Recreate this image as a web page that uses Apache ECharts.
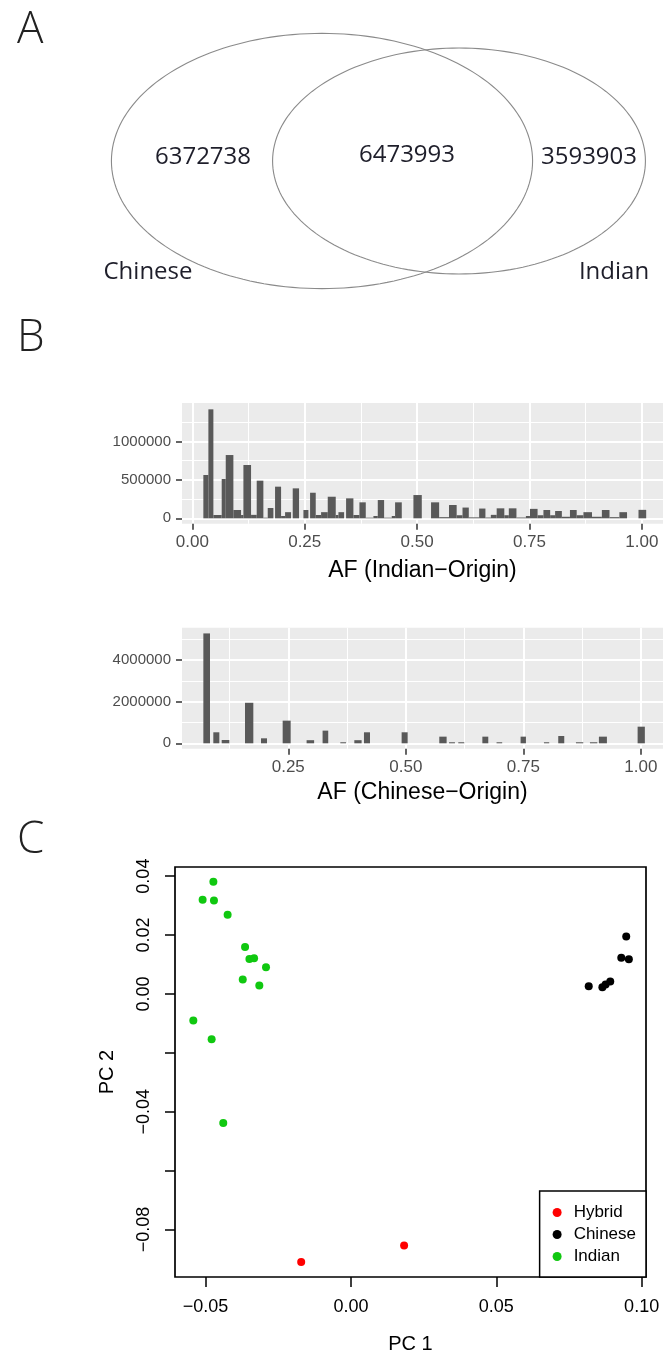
<!DOCTYPE html>
<html><head><meta charset="utf-8">
<script src="https://cdn.jsdelivr.net/npm/echarts@6/dist/echarts.min.js"></script>
<style>html,body{margin:0;padding:0;background:#fff}#c{width:663px;height:1357px}</style>
</head><body><div id="c"></div>
<script>
// ---------- Panel A : Venn ----------
const vennSets = ['Chinese', 'Indian'];
const vennRegionCounts = [6372738, 6473993, 3593903]; // Chinese only, shared, Indian only

// ---------- Panel B : allele-frequency histograms ----------
const indianBinStart = [0.0245,0.0357,0.0468,0.0653,0.0743,0.0913,0.1084,0.1136,0.1306,0.1432,0.1580,0.1677,0.1840,0.1974,0.2063,0.2233,0.2471,0.2619,0.2745,0.2864,0.3012,0.3190,0.3250,0.3420,0.3583,0.3717,0.3858,0.4028,0.4125,0.4266,0.4436,0.4510,0.4918,
  0.531,0.549,0.571,0.588,0.601,0.615,0.638,0.652,0.664,0.677,0.694,0.704,0.721,0.742,0.751,0.768,0.781,0.796,0.807,0.822,0.840,0.855,0.870,0.889,0.911,0.928,0.950,0.9925];
const indianBinEnd = [0.0357,0.0468,0.0653,0.0743,0.0913,0.1084,0.1136,0.1306,0.1432,0.1580,0.1677,0.1803,0.1974,0.2063,0.2196,0.2374,0.2582,0.2745,0.2864,0.3012,0.3190,0.3250,0.3376,0.3583,0.3717,0.3858,0.4028,0.4125,0.4266,0.4436,0.4510,0.4659,0.5104,
  0.549,0.571,0.588,0.601,0.615,0.638,0.652,0.664,0.677,0.694,0.704,0.721,0.742,0.751,0.768,0.781,0.796,0.807,0.822,0.840,0.855,0.870,0.889,0.911,0.928,0.950,0.967,1.0096];
const indianCount = [564000,1419000,43000,512000,824000,108000,43000,694000,45000,490000,8000,134000,412000,30000,80000,390000,108000,333000,43000,80000,281000,43000,80000,260000,43000,208000,8000,30000,238000,8000,30000,208000,303000,
  208000,15000,173000,40000,140000,12000,127000,10000,45000,130000,40000,130000,10000,30000,123000,40000,108000,40000,95000,20000,108000,40000,80000,20000,108000,15000,80000,110000];

const chineseBinStart = [0.0694,0.0906,0.1084,0.1580,0.1920,0.2381,0.2890,0.3230,0.3607,0.3905,0.4110,0.4911,0.5712,0.5920,0.6116,0.6628,0.6930,0.7441,0.7938,0.8242,0.8618,0.8916,0.9107,0.9930];
const chineseBinEnd   = [0.0836,0.1034,0.1247,0.1757,0.2048,0.2551,0.3050,0.3350,0.3728,0.4060,0.4238,0.5039,0.5868,0.6045,0.6243,0.6754,0.7050,0.7555,0.8050,0.8370,0.8774,0.9073,0.9277,1.0084];
const chineseCount    = [5290000,530000,160000,1950000,240000,1090000,150000,610000,50000,150000,530000,530000,320000,50000,50000,320000,50000,320000,50000,350000,50000,50000,320000,800000];

const afTicks = [0, 0.25, 0.5, 0.75, 1];
const afMinor = [0.125, 0.375, 0.625, 0.875];
const indianYTicks = [0, 500000, 1000000];
const indianYMinor = [250000, 750000, 1250000];
const chineseYTicks = [0, 2000000, 4000000];
const chineseYMinor = [1000000, 3000000, 5000000];

// ---------- Panel C : PCA ----------
const pcaGroups = ['Hybrid', 'Chinese', 'Indian'];
const hybridPC1 = [-0.0171, 0.0183];
const hybridPC2 = [-0.0910, -0.0854];
const chinesePC1 = [0.0947, 0.0930, 0.0956, 0.0818, 0.0865, 0.0876, 0.0892];
const chinesePC2 = [0.0195, 0.0123, 0.0118, 0.0026, 0.0023, 0.0032, 0.0042];
const indianPC1 = [-0.0473,-0.0510,-0.0471,-0.0424,-0.0364,-0.0349,-0.0333,-0.0292,-0.0372,-0.0315,-0.0542,-0.0479,-0.0439];
const indianPC2 = [0.0381,0.0320,0.0317,0.0269,0.0159,0.0119,0.0121,0.0091,0.0049,0.0029,-0.0090,-0.0154,-0.0438];
const pc1Ticks = [-0.05, 0, 0.05, 0.10];
const pc2Ticks = [0.04, 0.02, 0, -0.02, -0.04, -0.06, -0.08];
const pc2Labelled = [0.04, 0.02, 0, -0.04, -0.08];

// ---------- layout / style ----------
const SANS = 'Liberation Sans';
const VENN_FONT = 'Open Sans';
const vennLayout = {
  centers: [[322, 161], [459, 161]], aspect: 1.65, areaPerCount: 0.002092,
  regionLabelPos: [[203, 157], [407, 155], [589, 157]],
  setLabelPos: [[148, 272], [614, 272]]
};
const minusFmt = (v, d) => v.toFixed(d).replace('-', '\u2212');

const chart = echarts.init(document.getElementById('c'), null, {renderer: 'canvas'});

const setTotals = [vennRegionCounts[0] + vennRegionCounts[1], vennRegionCounts[1] + vennRegionCounts[2]];

function histAxisX(min, max, ticks, withLabels, name, nameGap, gridIndex) {
  return {
    type: 'value', gridIndex, min, max, position: 'bottom',
    name: withLabels ? name : '', nameLocation: 'middle', nameGap,
    nameTextStyle: {fontFamily: SANS, fontSize: 23, color: '#000'},
    axisLine: {show: false, onZero: false},
    axisTick: {show: withLabels, customValues: ticks, length: 6, lineStyle: {color: '#333', width: 1.5}},
    axisLabel: {show: withLabels, customValues: ticks, formatter: v => v.toFixed(2), margin: 10,
      fontFamily: SANS, fontSize: 17, color: '#4d4d4d'},
    splitLine: {show: true, lineStyle: {color: '#fff', width: withLabels ? 2 : 1}}
  };
}
function histAxisY(min, max, ticks, withLabels, gridIndex) {
  return {
    type: 'value', gridIndex, min, max, position: 'left',
    axisLine: {show: false, onZero: false},
    axisTick: {show: withLabels, customValues: ticks, length: 6, lineStyle: {color: '#333', width: 1.5}},
    axisLabel: {show: withLabels, customValues: ticks, formatter: v => String(Math.round(v)), margin: 11,
      fontFamily: SANS, fontSize: 15, color: '#4d4d4d'},
    splitLine: {show: true, lineStyle: {color: '#fff', width: withLabels ? 2 : 1}}
  };
}
function histSeries(starts, ends, counts, axisIndex) {
  return {
    type: 'custom', xAxisIndex: axisIndex, yAxisIndex: axisIndex, silent: true,
    data: starts.map((s, i) => [s, ends[i], counts[i]]),
    encode: {x: [0, 1], y: 2},
    renderItem: function (params, api) {
      const p0 = api.coord([api.value(0), api.value(2)]);
      const p1 = api.coord([api.value(1), 0]);
      return {type: 'rect', shape: {x: p0[0], y: p0[1], width: p1[0] - p0[0], height: p1[1] - p0[1]},
        style: {fill: '#595959'}};
    }
  };
}
const zip = (a, b) => a.map((v, i) => [v, b[i]]);
const letterStyle = {fontFamily: VENN_FONT, fontSize: 44, fontWeight: 300, color: '#222'};

const option = {
  backgroundColor: '#fff',
  animation: false,
  title: [
    {text: 'A', left: 12, top: 3, textStyle: letterStyle},
    {text: 'B', left: 12, top: 311, textStyle: letterStyle},
    {text: 'C', left: 12, top: 813, textStyle: letterStyle}
  ],
  grid: [
    {left: 0, top: 0, width: 663, height: 300, show: false, outerBoundsMode: 'none'},
    {left: 182, right: 0, top: 403, height: 120.8, show: true, backgroundColor: '#ebebeb', borderWidth: 0, outerBoundsMode: 'none'},
    {left: 182, right: 0, top: 627.7, height: 121.1, show: true, backgroundColor: '#ebebeb', borderWidth: 0, outerBoundsMode: 'none'},
    {left: 175, width: 471, top: 867, height: 410, show: true, borderColor: '#000', borderWidth: 1.7, backgroundColor: 'transparent', outerBoundsMode: 'none'}
  ],
  xAxis: [
    {type: 'value', gridIndex: 0, min: 0, max: 663, show: false},
    histAxisX(-0.023, 1.047, afTicks, true, 'AF (Indian\u2212Origin)', 35, 1),
    histAxisX(-0.023, 1.047, afMinor, false, '', 0, 1),
    histAxisX(0.024, 1.047, afTicks, true, 'AF (Chinese\u2212Origin)', 32, 2),
    histAxisX(0.024, 1.047, afMinor, false, '', 0, 2),
    {type: 'value', gridIndex: 3, min: -0.0605, max: 0.1015, position: 'bottom',
      name: 'PC 1', nameLocation: 'middle', nameGap: 57,
      nameTextStyle: {fontFamily: SANS, fontSize: 20, color: '#000'},
      axisLine: {show: false, onZero: false},
      axisTick: {show: true, customValues: pc1Ticks, length: 10, lineStyle: {color: '#000', width: 1.5}},
      axisLabel: {customValues: pc1Ticks, formatter: v => minusFmt(v, 2), margin: 21,
        fontFamily: SANS, fontSize: 18, color: '#000'},
      splitLine: {show: false}}
  ],
  yAxis: [
    {type: 'value', gridIndex: 0, min: 0, max: 300, inverse: true, show: false},
    histAxisY(-71500, 1501500, indianYTicks, true, 1),
    histAxisY(-71500, 1501500, indianYMinor, false, 1),
    histAxisY(-265000, 5565000, chineseYTicks, true, 2),
    histAxisY(-265000, 5565000, chineseYMinor, false, 2),
    {type: 'value', gridIndex: 3, min: -0.0961, max: 0.0431, position: 'left',
      name: 'PC 2', nameLocation: 'middle', nameGap: 58, nameRotate: 90,
      nameTextStyle: {fontFamily: SANS, fontSize: 20, color: '#000'},
      axisLine: {show: false, onZero: false},
      axisTick: {show: true, customValues: pc2Ticks, length: 10, lineStyle: {color: '#000', width: 1.5}},
      axisLabel: {customValues: pc2Labelled, formatter: v => minusFmt(v, 2), rotate: 90, margin: 22,
        fontFamily: SANS, fontSize: 18, color: '#000'},
      splitLine: {show: false}}
  ],
  legend: {
    data: pcaGroups, orient: 'vertical', right: 17, bottom: 80,
    icon: 'circle', itemWidth: 23, itemHeight: 9, itemGap: 5,
    padding: [13, 10, 12, 13], borderColor: '#000', borderWidth: 1.5, borderRadius: 0,
    backgroundColor: '#fff', selectedMode: false,
    textStyle: {fontFamily: SANS, fontSize: 17, color: '#000'}
  },
  series: [
    {
      type: 'custom', xAxisIndex: 0, yAxisIndex: 0, silent: true,
      data: vennSets.map((s, i) => [i, setTotals[i]]),
      renderItem: function (params, api) {
        const i = api.value(0), total = api.value(1);
        const ry = Math.sqrt(total * vennLayout.areaPerCount / vennLayout.aspect);
        const rx = ry * vennLayout.aspect;
        const c = api.coord(vennLayout.centers[i]);
        const pts = [];
        for (let k = 0; k < 180; k++) {
          const t = k / 180 * Math.PI * 2;
          pts.push([c[0] + rx * Math.cos(t), c[1] + ry * Math.sin(t)]);
        }
        const lp = api.coord(vennLayout.setLabelPos[i]);
        return {type: 'group', children: [
          {type: 'polygon', shape: {points: pts}, style: {fill: 'none', stroke: '#8a8a8a', lineWidth: 1.1}},
          {type: 'text', x: lp[0], y: lp[1], style: {text: vennSets[i], fill: '#1e1e2a',
            font: '24px "' + VENN_FONT + '"', align: 'center', verticalAlign: 'middle'}}
        ]};
      }
    },
    {
      type: 'custom', xAxisIndex: 0, yAxisIndex: 0, silent: true,
      data: vennRegionCounts.map((v, i) => [i, v]),
      renderItem: function (params, api) {
        const i = api.value(0);
        const p = api.coord(vennLayout.regionLabelPos[i]);
        return {type: 'text', x: p[0], y: p[1], style: {text: String(api.value(1)), fill: '#1e1e2a',
          font: '24px "' + VENN_FONT + '"', align: 'center', verticalAlign: 'middle'}};
      }
    },
    histSeries(indianBinStart, indianBinEnd, indianCount, 1),
    histSeries(chineseBinStart, chineseBinEnd, chineseCount, 3),
    {name: 'Indian', type: 'scatter', xAxisIndex: 5, yAxisIndex: 5, symbol: 'circle', symbolSize: 8,
      itemStyle: {color: '#10c810', opacity: 1}, data: zip(indianPC1, indianPC2)},
    {name: 'Chinese', type: 'scatter', xAxisIndex: 5, yAxisIndex: 5, symbol: 'circle', symbolSize: 8,
      itemStyle: {color: '#000', opacity: 1}, data: zip(chinesePC1, chinesePC2)},
    {name: 'Hybrid', type: 'scatter', xAxisIndex: 5, yAxisIndex: 5, symbol: 'circle', symbolSize: 8,
      itemStyle: {color: '#ff0000', opacity: 1}, data: zip(hybridPC1, hybridPC2)}
  ]
};
chart.setOption(option);
</script>
</body></html>
